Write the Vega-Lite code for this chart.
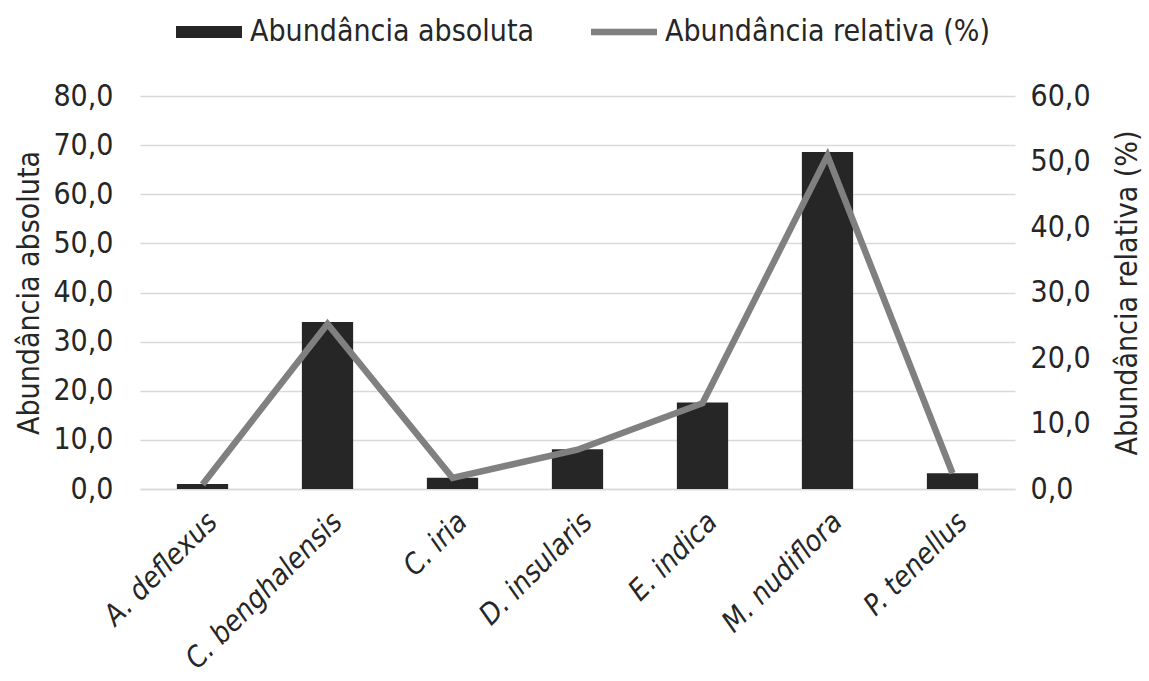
{
  "$schema": "https://vega.github.io/schema/vega-lite/v6.json",
  "width": 875,
  "height": 393,
  "autosize": {"type": "none"},
  "padding": {"left": 140, "top": 96, "right": 134, "bottom": 192},
  "background": "white",
  "config": {
    "font": "DejaVu Sans Condensed",
    "view": {"stroke": null},
    "axis": {"labelFont": "DejaVu Sans Condensed", "titleFont": "DejaVu Sans Condensed", "labelColor": "#262626", "titleColor": "#262626", "titleFontWeight": "normal"},
    "legend": {"labelFont": "DejaVu Sans Condensed", "labelColor": "#262626"}
  },
  "data": {
    "values": [
      {"especie": "A. deflexus", "absoluta": 1.0, "relativa": 0.7},
      {"especie": "C. benghalensis", "absoluta": 34.0, "relativa": 25.2},
      {"especie": "C. iria", "absoluta": 2.3, "relativa": 1.7},
      {"especie": "D. insularis", "absoluta": 8.1, "relativa": 6.0},
      {"especie": "E. indica", "absoluta": 17.6, "relativa": 13.1},
      {"especie": "M. nudiflora", "absoluta": 68.6, "relativa": 50.9},
      {"especie": "P. tenellus", "absoluta": 3.2, "relativa": 2.4}
    ]
  },
  "encoding": {
    "x": {
      "field": "especie",
      "type": "nominal",
      "sort": null,
      "scale": {"paddingInner": 0.59, "paddingOuter": 0.295},
      "axis": {
        "title": null,
        "labelAngle": -45,
        "labelFontSize": 29,
        "labelFontStyle": "italic",
        "labelLimit": 500,
        "labelPadding": 18,
        "ticks": false,
        "domainColor": "#d9d9d9",
        "domainWidth": 1.5
      }
    }
  },
  "layer": [
    {
      "mark": {"type": "bar", "color": "#262626"},
      "encoding": {
        "y": {
          "field": "absoluta",
          "type": "quantitative",
          "scale": {"domain": [0, 80]},
          "axis": {
            "title": "Abundância absoluta",
            "titleFontSize": 30,
            "titlePadding": 8,
            "values": [0, 10, 20, 30, 40, 50, 60, 70, 80],
            "labelExpr": "replace(format(datum.value, '.1f'), '.', ',')",
            "labelFontSize": 30,
            "labelPadding": 27,
            "ticks": false,
            "domain": false,
            "gridColor": "#d9d9d9",
            "gridWidth": 1.5
          }
        },
        "color": {
          "datum": "Abundância absoluta",
          "scale": {"domain": ["Abundância absoluta", "Abundância relativa (%)"], "range": ["#262626", "#808080"]},
          "legend": {
            "title": null,
            "orient": "none",
            "direction": "horizontal",
            "legendX": 36,
            "legendY": -97,
            "labelFontSize": 30,
            "labelLimit": 600,
            "symbolSize": 4356,
            "symbolStrokeWidth": 0,
            "labelOffset": 8,
            "columnPadding": 56,
            "encode": {
              "symbols": {
                "update": {
                  "shape": {"signal": "datum.value === 'Abundância absoluta' ? 'M-1,-0.18H1V0.18H-1Z' : 'M-1,-0.095H1V0.095H-1Z'"},
                  "strokeWidth": {"value": 0}
                }
              }
            }
          }
        }
      }
    },
    {
      "mark": {"type": "line", "color": "#808080", "strokeWidth": 6.5},
      "encoding": {
        "y": {
          "field": "relativa",
          "type": "quantitative",
          "scale": {"domain": [0, 60]},
          "axis": {
            "orient": "right",
            "title": "Abundância relativa (%)",
            "titleFontSize": 30,
            "titleAngle": 270,
            "titleBaseline": "top",
            "titlePadding": 22,
            "values": [0, 10, 20, 30, 40, 50, 60],
            "labelExpr": "replace(format(datum.value, '.1f'), '.', ',')",
            "labelFontSize": 30,
            "labelPadding": 15,
            "ticks": false,
            "domain": false,
            "grid": false
          }
        },
        "color": {"datum": "Abundância relativa (%)"}
      }
    }
  ],
  "resolve": {"scale": {"y": "independent"}}
}
